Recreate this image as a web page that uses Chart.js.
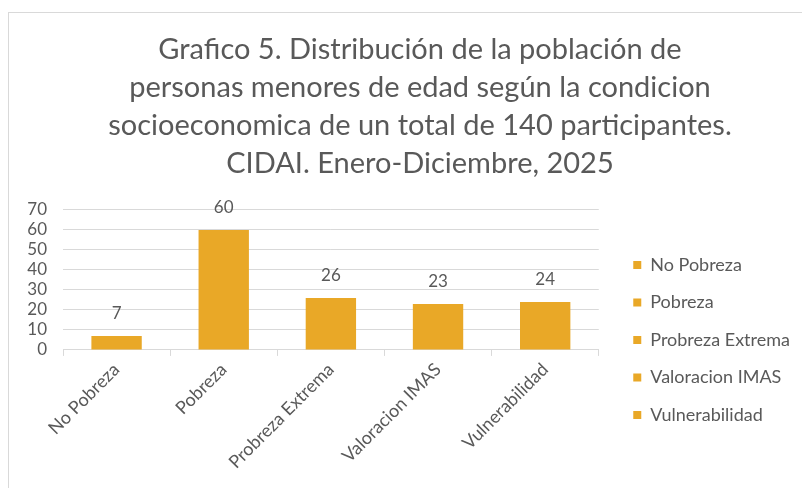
<!DOCTYPE html>
<html>
<head>
<meta charset="utf-8">
<script src="https://cdn.jsdelivr.net/npm/chart.js@4.4.1/dist/chart.umd.min.js"></script>
<style>
  html, body { margin: 0; padding: 0; background: #fff; overflow: hidden; }
  #frame { position: absolute; left: 8px; top: 12px; width: 900px; height: 600px; border: 1px solid #d9d9d9; }
  #c { position: absolute; left: 0; top: 0; }
</style>
</head>
<body>
<div id="frame"></div>
<canvas id="c" width="802" height="488"></canvas>
<script>
/* global Chart */
const categories = ['No Pobreza', 'Pobreza', 'Probreza Extrema', 'Valoracion IMAS', 'Vulnerabilidad']
const values = [7, 60, 26, 23, 24]
const yTicks = [0, 10, 20, 30, 40, 50, 60, 70]
const titleLines = [
  'Grafico 5. Distribución de la población de',
  'personas menores de edad según la condicion',
  'socioeconomica de un total de 140 participantes.',
  'CIDAI. Enero-Diciembre, 2025'
]

const BAR = '#E9A827'
const TEXT = '#595959'
const GRID = '#d9d9d9'
const FONT = 'Lato'

// value labels above the bars
const barLabels = {
  id: 'barLabels',
  afterDatasetsDraw (chart) {
    const ctx = chart.ctx
    const meta = chart.getDatasetMeta(0)
    ctx.save()
    ctx.font = '17px ' + FONT
    ctx.fillStyle = TEXT
    ctx.textAlign = 'center'
    ctx.textBaseline = 'middle'
    meta.data.forEach((bar, i) => {
      ctx.fillText(String(values[i]), bar.x, bar.y - 22)
    })
    ctx.restore()
  }
}

// the y axis is kept narrow so the title sits centred; let its labels spill left
const yLabelRoom = {
  id: 'yLabelRoom',
  afterLayout (chart) {
    chart.scales.y.left = 0
  }
}

const config = {
  type: 'bar',
  data: {
    labels: categories,
    datasets: [{
      label: 'Serie 1',
      data: values,
      backgroundColor: BAR,
      borderWidth: 0,
      categoryPercentage: 1,
      barPercentage: 0.47
    }]
  },
  options: {
    responsive: false,
    animation: false,
    layout: { padding: { left: 40, right: 2, top: 0, bottom: 12 } },
    plugins: {
      title: {
        display: true,
        text: titleLines,
        color: TEXT,
        font: { family: FONT, size: 29, weight: 'normal', lineHeight: 1.31 },
        padding: { top: 31, bottom: 27 }
      },
      legend: {
        position: 'right',
        maxWidth: 300,
        // empty legend title only pushes the items down below the chart title
        title: { display: true, text: '', font: { size: 10, lineHeight: 1 }, padding: { top: 194, bottom: 0 } },
        labels: {
          color: TEXT,
          font: { family: FONT, size: 18 },
          boxWidth: 8,
          boxHeight: 8,
          padding: 19.5,
          generateLabels: () => categories.map((c, i) => ({
            text: c,
            fillStyle: BAR,
            strokeStyle: BAR,
            lineWidth: 0,
            hidden: false,
            index: i,
            datasetIndex: 0,
            fontColor: TEXT
          }))
        }
      },
      tooltip: { enabled: false }
    },
    scales: {
      x: {
        offset: true,
        grid: { display: true, drawOnChartArea: false, color: GRID, tickLength: 6, offset: true },
        border: { color: GRID },
        ticks: {
          color: TEXT,
          font: { family: FONT, size: 18 },
          minRotation: 45,
          maxRotation: 45,
          autoSkip: false
        }
      },
      y: {
        min: 0,
        max: 70,
        afterBuildTicks: (axis) => { axis.ticks = yTicks.map(v => ({ value: v })) },
        afterFit: (axis) => { axis.width = 23 },
        grid: { color: GRID, drawTicks: false },
        border: { display: false },
        ticks: {
          color: TEXT,
          font: { family: FONT, size: 17 },
          padding: 16,
          autoSkip: false
        }
      },
      gap: {
        type: 'linear',
        position: 'right',
        display: true,
        grid: { display: false },
        border: { display: false },
        ticks: { display: false },
        afterFit: (axis) => { axis.width = 15 }
      }
    }
  },
  plugins: [barLabels, yLabelRoom]
}

const myChart = new Chart(document.getElementById('c'), config)
</script>
</body>
</html>
